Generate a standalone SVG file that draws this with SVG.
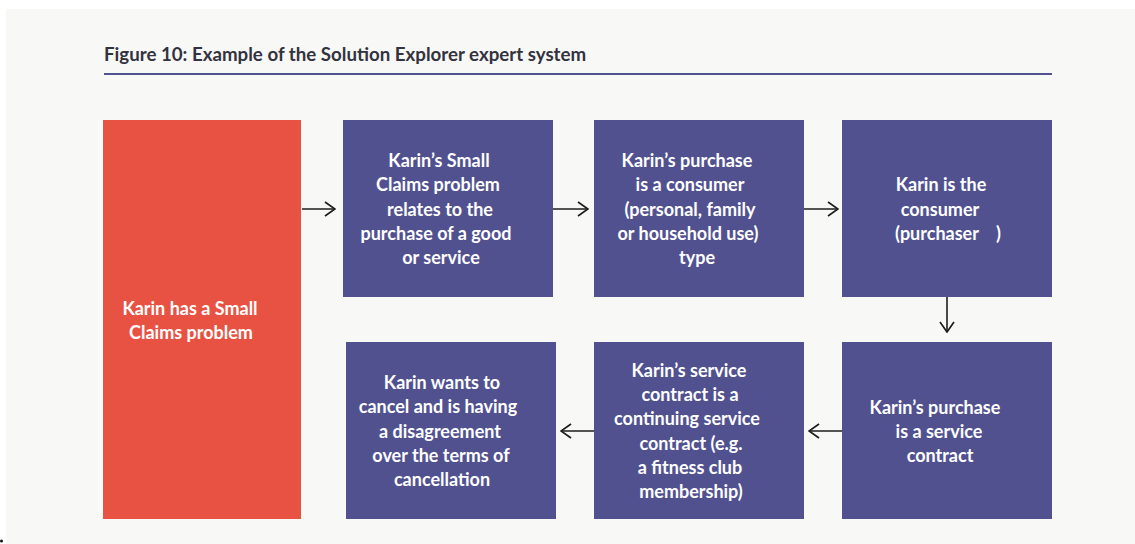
<svg xmlns="http://www.w3.org/2000/svg" width="1135" height="544" viewBox="0 0 1135 544">
<defs>
<style>
.bg{fill:#f8f8f6}
.p{fill:#515190}
.r{fill:#e85242}
.t{font-family:Lato,"Liberation Sans",sans-serif;font-weight:bold;font-size:18px;fill:#ffffff;text-anchor:middle}
.title{font-family:Lato,"Liberation Sans",sans-serif;font-weight:bold;font-size:18.7px;fill:#33333f}
.c{fill:none;stroke:#1e1e1e;stroke-width:1.6}
</style>
<marker id="ah" viewBox="0 0 12 16" refX="11" refY="8" markerWidth="12" markerHeight="16" markerUnits="userSpaceOnUse" orient="auto">
<path d="M1,1 L11,8 L1,15" fill="none" stroke="#1e1e1e" stroke-width="1.7"/>
</marker>
</defs>
<rect width="1135" height="544" fill="#ffffff"/>
<rect class="bg" x="6" y="9" width="1129" height="535"/>
<circle cx="1.5" cy="541" r="1.5" fill="#111"/>
<text class="title" x="104" y="61">Figure 10: Example of the Solution Explorer expert system</text>
<rect x="104" y="73" width="948" height="2" fill="#515190"/>

<g id="n1"><rect class="r" x="103" y="120" width="198" height="399"/>
<text class="t"><tspan x="190" y="315">Karin has a Small</tspan><tspan x="191" y="339">Claims problem</tspan></text></g>

<g id="n2"><rect class="p" x="343" y="120" width="210" height="177"/>
<text class="t"><tspan x="439" y="167">Karin’s Small</tspan><tspan x="438" y="191">Claims problem</tspan><tspan x="440" y="216">relates to the</tspan><tspan x="436" y="240">purchase of a good</tspan><tspan x="441" y="264">or service</tspan></text></g>

<g id="n3"><rect class="p" x="594" y="120" width="210" height="177"/>
<text class="t"><tspan x="687" y="167">Karin’s purchase</tspan><tspan x="690" y="191">is a consumer</tspan><tspan x="690" y="216">(personal, family</tspan><tspan x="688" y="240">or household use)</tspan><tspan x="697" y="264">type</tspan></text></g>

<g id="n4"><rect class="p" x="842" y="120" width="210" height="177"/>
<text class="t"><tspan x="941" y="191">Karin is the</tspan><tspan x="940" y="216">consumer</tspan><tspan x="948" y="240" xml:space="preserve">(purchaser    )</tspan></text></g>

<g id="n5"><rect class="p" x="842" y="342" width="210" height="177"/>
<text class="t"><tspan x="935" y="414">Karin’s purchase</tspan><tspan x="939" y="438">is a service</tspan><tspan x="940" y="462">contract</tspan></text></g>

<g id="n6"><rect class="p" x="594" y="342" width="210" height="177"/>
<text class="t"><tspan x="689" y="377">Karin’s service</tspan><tspan x="690" y="401">contract is a</tspan><tspan x="687" y="425">continuing service</tspan><tspan x="691" y="450">contract (e.g.</tspan><tspan x="690" y="474">a fitness club</tspan><tspan x="691" y="498">membership)</tspan></text></g>

<g id="n7"><rect class="p" x="346" y="342" width="210" height="177"/>
<text class="t"><tspan x="442" y="389">Karin wants to</tspan><tspan x="438" y="413">cancel and is having</tspan><tspan x="440" y="438">a disagreement</tspan><tspan x="441" y="462">over the terms of</tspan><tspan x="442" y="486">cancellation</tspan></text></g>

<g id="connectors">
<line class="c" x1="302" y1="209" x2="335" y2="209" marker-end="url(#ah)"/>
<line class="c" x1="553" y1="209" x2="588" y2="209" marker-end="url(#ah)"/>
<line class="c" x1="804" y1="209" x2="838" y2="209" marker-end="url(#ah)"/>
<line class="c" x1="947" y1="297" x2="947" y2="332" marker-end="url(#ah)"/>
<line class="c" x1="842" y1="431" x2="809" y2="431" marker-end="url(#ah)"/>
<line class="c" x1="594" y1="431" x2="561" y2="431" marker-end="url(#ah)"/>
</g>
</svg>
